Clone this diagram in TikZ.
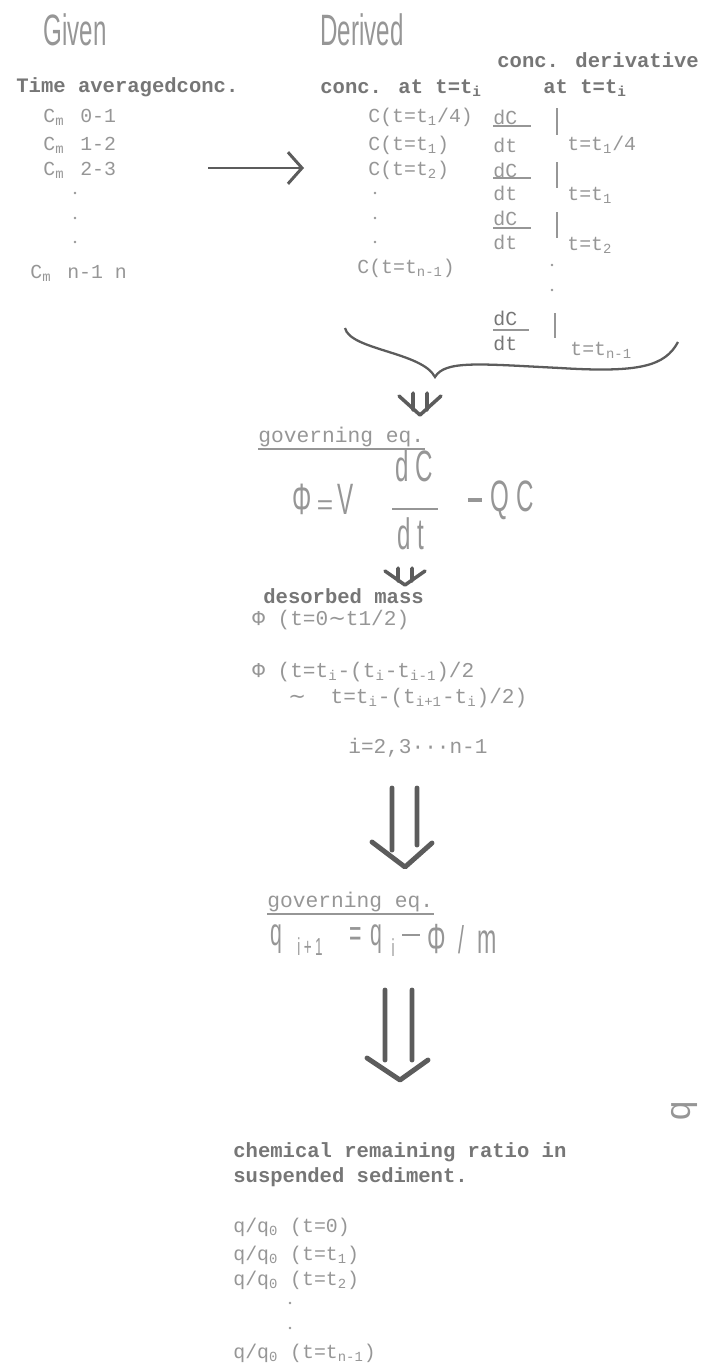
\documentclass[tikz,border=0pt]{standalone}
\usepackage{fontspec}
\usetikzlibrary{arrows.meta, positioning, calc}
\newfontfamily\typefont{Liberation Mono}
\newfontfamily\tallfont[FakeStretch=0.55]{Liberation Sans}
\newfontfamily\wavefont{DejaVu Sans}
\definecolor{ink}{RGB}{150,150,150}
\definecolor{inkdark}{RGB}{118,118,118}
\definecolor{pen}{RGB}{92,92,92}
\newcommand\tsub[1]{\textsubscript{#1}}

\begin{document}
\begin{tikzpicture}[x=0.02cm, y=-0.02cm,
    light/.style={font=\typefont\fontsize{11.3}{12}\selectfont, text=ink, anchor=west, inner sep=0pt},
    heading/.style={font=\typefont\bfseries\fontsize{11.7}{13}\selectfont, text=inkdark, anchor=west, inner sep=0pt},
    tall/.style={font=\tallfont\fontsize{25}{28}\selectfont, text=ink, inner sep=0pt},
    eqtwo/.style={tall, font=\tallfont\fontsize{22}{24}\selectfont},
    eqsub/.style={tall, font=\tallfont\fontsize{14}{15}\selectfont},
    thinbar/.style={ink, line width=0.8pt},
    fat/.style={pen, line width=2.3pt, line cap=round, line join=round}]
  \useasboundingbox (0,0) rectangle (701,1366);

  % column titles
  \node[tall, anchor=west] (given) at (43,30) {Given};
  \node[tall, anchor=west] (derived) at (320,30) {Derived};

  % given: time averaged conc.
  \node[heading] (timeavg) at (16,87) {Time averagedconc.};
  \node[light] (cma) at (43,117) {C\tsub{m}\hspace{9pt}0-1};
  \node[light] (cmb) at (43,145) {C\tsub{m}\hspace{9pt}1-2};
  \node[light] (cmc) at (43,170) {C\tsub{m}\hspace{9pt}2-3};
  \fill[ink] (75,193) circle (1.4) (75,218) circle (1.4) (75,242) circle (1.4);
  \node[light] (cmn) at (30,273) {C\tsub{m}\hspace{9pt}n-1 n};

  % given -> derived
  \coordinate (gapL) at (208,168);
  \coordinate (gapR) at (304,168);
  \draw[pen, line width=1.7pt, -{Straight Barb[length=8pt,width=18pt,line width=1.7pt]}] (gapL) -- (gapR);

  % derived: conc. at t=ti
  \node[heading] (concat) at (320,88) {conc. at t=t\tsub{i}};
  \node[light] (ca) at (368,117) {C(t=t\tsub{1}/4)};
  \node[light] (cb) at (368,145) {C(t=t\tsub{1})};
  \node[light] (cc) at (368,170) {C(t=t\tsub{2})};
  \fill[ink] (375,193) circle (1.4) (375,218) circle (1.4) (375,242) circle (1.4);
  \node[light] (cn) at (357,268) {C(t=t\tsub{n-1})};

  % derived: conc. derivative at t=ti
  \node[heading] (derivhead) at (497,60) {conc. derivative};
  \node[heading] (atti) at (543,88) {at t=t\tsub{i}};

  \node[light] (dca) at (493,117) {dC};
  \draw[thinbar] (493,126) -- (531,126);
  \node[light] (dta) at (493,145) {dt};
  \draw[thinbar] (557,108) -- (557,135);
  \node[light] (eva) at (567,145) {t=t\tsub{1}/4};

  \node[light] (dcb) at (493,170) {dC};
  \draw[thinbar] (493,178) -- (531,178);
  \node[light] (dtb) at (493,193) {dt};
  \draw[thinbar] (557,162) -- (557,188);
  \node[light] (evb) at (567,195) {t=t\tsub{1}};

  \node[light] (dcc) at (493,218) {dC};
  \draw[thinbar] (493,228) -- (531,228);
  \node[light] (dtc) at (493,242) {dt};
  \draw[thinbar] (557,212) -- (557,238);
  \node[light] (evc) at (567,245) {t=t\tsub{2}};

  \fill[ink] (552,265) circle (1.4) (552,290) circle (1.4);

  \node[light, text=inkdark] (dcd) at (493,318) {dC};
  \draw[thinbar] (493,330) -- (529,330);
  \node[light, text=inkdark] (dtd) at (493,343) {dt};
  \draw[thinbar] (555,313) -- (555,338);
  \node[light] (evd) at (570,350) {t=t\tsub{n-1}};

  % brace
  \coordinate (braceL) at (345,328);
  \coordinate (braceTip) at (435,377);
  \coordinate (braceR) at (678,342);
  \draw[pen, line width=1.3pt] (braceL) .. controls (350,350) and (422,352) .. (braceTip)
    .. controls (445,360) and (480,364) .. (560,368)
    .. controls (640,373) and (665,366) .. (braceR);

  \coordinate (tipA) at (420,415);
  \draw[fat, line width=2pt] ([shift={(-7,-22)}]tipA) -- ++(0,17)
    ([shift={(7,-22)}]tipA) -- ++(0,17)
    ([shift={(-21,-19)}]tipA) -- (tipA) -- ++(21,-19);

  % first governing eq.
  \node[light, font=\typefont\fontsize{12.1}{13}\selectfont] (gova) at (258,437) {governing eq.};
  \draw[thinbar] ([yshift=-1pt]gova.south west) -- ([yshift=-1pt]gova.south east);
  \node[tall] (phia) at (302,499) {Φ};
  \node[light, anchor=center, font=\typefont\fontsize{16}{16}\selectfont] (eqa) at (325,508) {=};
  \node[tall] (vee) at (346,499) {V};
  \node[tall] (dcbig) at (414,466) {d\hspace{4pt}C};
  \draw[thinbar] (392,509) -- (438,509);
  \node[tall] (dtbig) at (411,534) {d\hspace{4pt}t};
  \node[tall] (minusa) at (475,500) {\rule{8pt}{1.8pt}};
  \node[tall] (qc) at (512,500) {Q\hspace{4pt}C};

  \coordinate (tipB) at (405,585);
  \draw[fat, line width=2pt] ([shift={(-7,-17)}]tipB) -- ++(0,13)
    ([shift={(7,-17)}]tipB) -- ++(0,13)
    ([shift={(-20,-14)}]tipB) -- (tipB) -- ++(20,-14);

  % desorbed mass
  \node[heading] (desorb) at (263,596) {desorbed mass};
  \node[light, font=\typefont\fontsize{12}{13}\selectfont] (phib) at (252,620) {Φ (t=0{\wavefont ∼}t1/2)};
  \node[light, font=\typefont\fontsize{12}{13}\selectfont] (phic) at (252,672) {Φ (t=t\tsub{i}-(t\tsub{i}-t\tsub{i-1})/2};
  \node[light, font=\typefont\fontsize{12}{13}\selectfont] (phid) at (288,698) {{\wavefont ∼}\hspace{14pt}t=t\tsub{i}-(t\tsub{i+1}-t\tsub{i})/2)};
  \node[light, font=\typefont\fontsize{12}{13}\selectfont] (irange) at (348,748) {i=2,3···n-1};

  \coordinate (tipC) at (405,867);
  \draw[fat, line width=2.8pt] ([shift={(-13,-79)}]tipC) -- ++(0,62)
    ([shift={(12,-79)}]tipC) -- ++(0,57)
    ([shift={(-33,-25)}]tipC) -- (tipC) -- ++(27,-24);

  % second governing eq.
  \node[light, font=\typefont\fontsize{12.1}{13}\selectfont] (govb) at (267,902) {governing eq.};
  \draw[thinbar] ([yshift=-1pt]govb.south west) -- ([yshift=-1pt]govb.south east);
  \node[eqtwo] (qnext) at (276,939) {q};
  \node[eqsub] (subnext) at (310,947) {i\hspace{2pt}+\hspace{2pt}1};
  \node[eqtwo] (eqb) at (356,937) {=};
  \node[eqtwo] (qcur) at (376,939) {q};
  \node[eqsub] (subcur) at (393,948) {i};
  \node[eqtwo] (minusb) at (411,935) {\rule{10pt}{1.4pt}};
  \node[eqtwo, font=\tallfont\fontsize{24}{26}\selectfont] (phie) at (437,939) {Φ};
  \node[eqtwo] (slash) at (461,940) {/};
  \node[eqtwo, font=\tallfont\fontsize{24}{26}\selectfont] (emm) at (487,942) {m};

  \coordinate (tipD) at (400,1080);
  \draw[fat, line width=2.8pt] ([shift={(-15,-90)}]tipD) -- ++(0,70)
    ([shift={(12,-90)}]tipD) -- ++(0,70)
    ([shift={(-33,-22)}]tipD) -- (tipD) -- ++(28,-20);

  \node[font=\typefont\fontsize{20}{20}\selectfont, text=ink, rotate=90, inner sep=0pt] (stray) at (684,1111) {q};

  % result
  \node[heading] (chema) at (233,1152) {chemical remaining ratio in};
  \node[heading] (chemb) at (233,1177) {suspended sediment.};
  \node[light] (qa) at (233,1227) {q/q\tsub{0} (t=0)};
  \node[light] (qb) at (233,1255) {q/q\tsub{0} (t=t\tsub{1})};
  \node[light] (qd) at (233,1280) {q/q\tsub{0} (t=t\tsub{2})};
  \fill[ink] (290,1303) circle (1.4) (290,1328) circle (1.4);
  \node[light] (qn) at (233,1353) {q/q\tsub{0} (t=t\tsub{n-1})};
\end{tikzpicture}
\end{document}
